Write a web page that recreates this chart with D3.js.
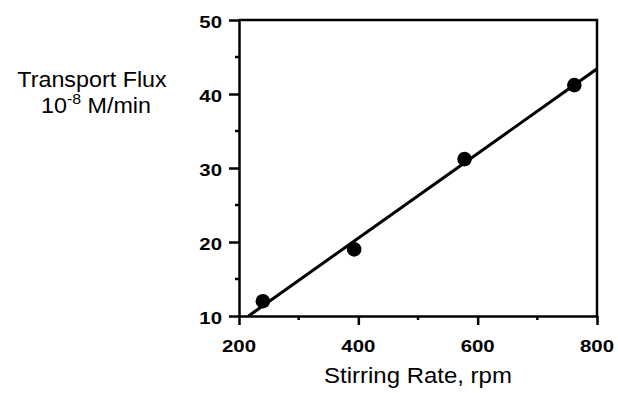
<!DOCTYPE html>
<html>
<head>
<meta charset="utf-8">
<script src="https://cdn.jsdelivr.net/npm/d3@7"></script>
<style>
  html, body { margin: 0; padding: 0; background: #fff; }
  svg { display: block; }
  text { font-family: "Liberation Sans", Arial, sans-serif; fill: #000; }
</style>
</head>
<body>
<svg id="chart" width="618" height="393"></svg>
<script>
// Data
const stirringRate = [240, 393, 578, 762];
const transportFlux = [12, 19, 31.2, 41.2];
const fitRate = [216, 800];
const fitFlux = [10, 43.4];
const xTickValues = [200, 400, 600, 800];
const xMinorTicks = [300, 500, 700];
const yTickValues = [10, 20, 30, 40, 50];
const yMinorTicks = [15, 25, 35, 45];

const svg = d3.select("#chart");
const pLeft = 239, pRight = 597, pTop = 20, pBottom = 316;

const x = d3.scaleLinear().domain([200, 800]).range([pLeft, pRight]);
const y = d3.scaleLinear().domain([10, 50]).range([pBottom, pTop]);

const axisW = 2.5;

// frame (top and right)
svg.append("path")
  .attr("d", `M${pLeft},${pTop}H${pRight}V${pBottom}`)
  .attr("fill", "none").attr("stroke", "#000").attr("stroke-width", axisW);

// x axis
const gx = svg.append("g").attr("transform", `translate(0,${pBottom})`)
  .call(d3.axisBottom(x).tickValues(xTickValues).tickSize(9).tickSizeOuter(0).tickFormat(d3.format("d")));
gx.select(".domain").attr("stroke-width", axisW);
gx.selectAll(".tick line").attr("stroke-width", axisW);
gx.selectAll(".tick text").remove();
gx.selectAll(".minor").data(xMinorTicks).enter().append("line")
  .attr("x1", d => x(d)).attr("x2", d => x(d)).attr("y1", 0).attr("y2", 4)
  .attr("stroke", "#000").attr("stroke-width", axisW);
svg.selectAll(".xlab").data(xTickValues).enter().append("text")
  .attr("transform", d => `translate(${x(d)},352) scale(1.2,1)`)
  .attr("text-anchor", "middle")
  .style("font-size", "17px").style("font-weight", "bold")
  .text(d => d);

// y axis
const gy = svg.append("g").attr("transform", `translate(${pLeft},0)`)
  .call(d3.axisLeft(y).tickValues(yTickValues).tickSize(10).tickSizeOuter(0));
gy.select(".domain").attr("stroke-width", axisW);
gy.selectAll(".tick line").attr("stroke-width", axisW);
gy.selectAll(".tick text").remove();
gy.selectAll(".minor").data(yMinorTicks).enter().append("line")
  .attr("y1", d => y(d)).attr("y2", d => y(d)).attr("x1", 0).attr("x2", -4)
  .attr("stroke", "#000").attr("stroke-width", axisW);
svg.selectAll(".ylab").data(yTickValues).enter().append("text")
  .attr("transform", d => `translate(222,${y(d) + 7.5}) scale(1.2,1)`)
  .attr("text-anchor", "end")
  .style("font-size", "17px").style("font-weight", "bold")
  .text(d => d);

// clip for fit line
svg.append("clipPath").attr("id", "plotclip")
  .append("rect").attr("x", pLeft).attr("y", pTop).attr("width", pRight - pLeft).attr("height", pBottom - pTop);

// fit line
const fitData = fitRate.map((r, i) => [r, fitFlux[i]]);
svg.append("path")
  .datum(fitData)
  .attr("clip-path", "url(#plotclip)")
  .attr("d", d3.line().x(d => x(d[0])).y(d => y(d[1])))
  .attr("fill", "none").attr("stroke", "#000").attr("stroke-width", 3);

// points
svg.selectAll(".pt").data(stirringRate.map((r, i) => [r, transportFlux[i]])).enter()
  .append("circle")
  .attr("cx", d => x(d[0])).attr("cy", d => y(d[1])).attr("r", 7.3)
  .attr("fill", "#000");

// x title
svg.append("text")
  .attr("transform", `translate(418,383) scale(1.09,1)`)
  .attr("text-anchor", "middle")
  .style("font-size", "22px")
  .text("Stirring Rate, rpm");

// y title
svg.append("text")
  .attr("transform", `translate(92,87) scale(1.06,1)`)
  .attr("text-anchor", "middle")
  .style("font-size", "22px")
  .text("Transport Flux");
const t2 = svg.append("text")
  .attr("transform", `translate(96,113) scale(1.06,1)`)
  .attr("text-anchor", "middle")
  .style("font-size", "22px");
t2.append("tspan").text("10");
t2.append("tspan").attr("dy", -9).style("font-size", "15px").text("-8");
t2.append("tspan").attr("dy", 9).text(" M/min");
</script>
</body>
</html>
